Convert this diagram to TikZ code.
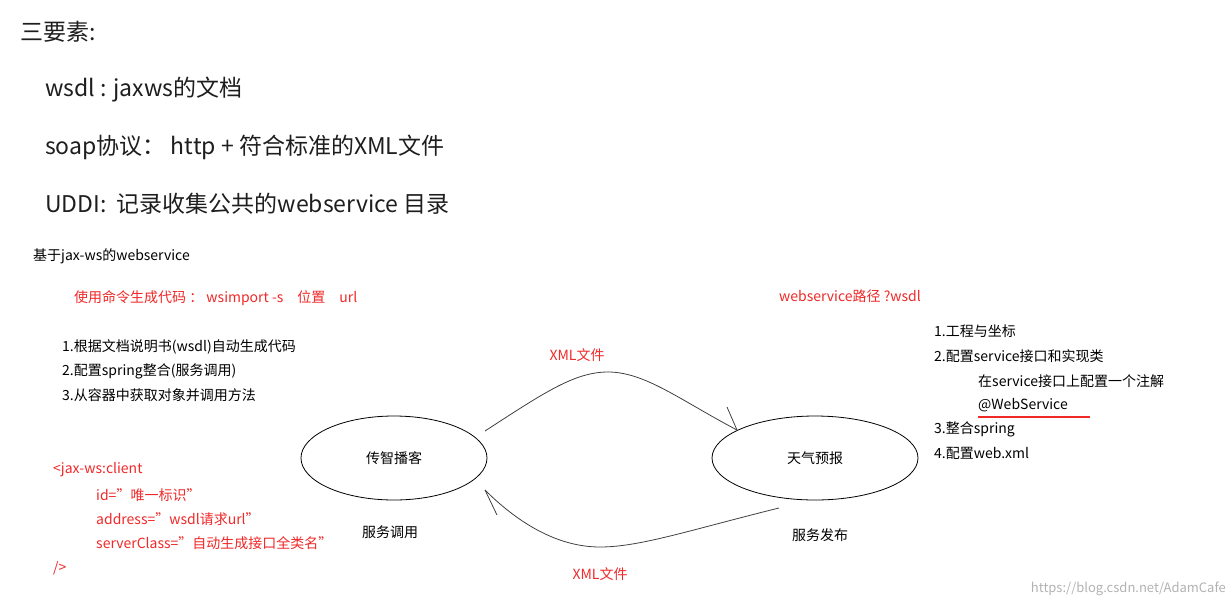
\documentclass[tikz,border=0pt]{standalone}
\usepackage{fontspec}
\setmainfont{Noto Sans CJK SC}
\usetikzlibrary{shapes.geometric}
\definecolor{rd}{RGB}{240,40,40}
\definecolor{tx}{RGB}{30,30,30}
\begin{document}
\begin{tikzpicture}[x=1pt,y=-1pt,
  big/.style={anchor=west,inner sep=0,font=\fontsize{23}{27}\selectfont,text=tx},
  sm/.style={anchor=west,inner sep=0,font=\fontsize{14}{16}\selectfont,text=black},
  rsm/.style={sm,text=rd},
  ell/.style={ellipse,draw,thick,inner sep=0},
  con/.style={draw=black!75,thick}]
\useasboundingbox (0,0) rectangle (1231,606);
\node[big] (t0) at (20,32) {三要素:};
\node[big] (t1) at (45,90) {wsdl : jaxws的文档};
\node[big] (t2) at (45,147) {soap协议： http + 符合标准的XML文件};
\node[big] (t3) at (45,204) {UDDI:\ \ 记录收集公共的webservice 目录};
\node[sm] (h) at (33,256) {基于jax-ws的webservice};
\node[rsm] (cmd) at (74,298) {使用命令生成代码 ：  wsimport -s\quad 位置\quad url};
\node[sm] (l1) at (62,347) {1.根据文档说明书(wsdl)自动生成代码};
\node[sm] (l2) at (62,371) {2.配置spring整合(服务调用)};
\node[sm] (l3) at (62,395) {3.从容器中获取对象并调用方法};
\node[rsm] (wp) at (779,296) {webservice路径 ?wsdl};
\node[sm] (r1) at (934,331) {1.工程与坐标};
\node[sm] (r2) at (934,356) {2.配置service接口和实现类};
\node[sm] (r3) at (978,381) {在service接口上配置一个注解};
\node[sm] (r4) at (978,405) {@WebService};
\draw[rd,line width=1.2pt] (978,417) -- (1090,417);
\node[sm] (r5) at (934,429) {3.整合spring};
\node[sm] (r6) at (934,453) {4.配置web.xml};
\node[rsm] (c1) at (53,470) {<jax-ws:client};
\node[rsm] (c2) at (96,495) {id="唯一标识"};
\node[rsm] (c3) at (96,519) {address="wsdl请求url"};
\node[rsm] (c4) at (96,543) {serverClass="自动生成接口全类名"};
\node[rsm] (c5) at (53,568) {/>};
\node[ell,minimum width=186,minimum height=84] (A) at (394,458) {};
\node[sm,anchor=center] (At) at (394,458) {传智播客};
\node[ell,minimum width=206,minimum height=84] (B) at (815,458) {};
\node[sm,anchor=center] (Bt) at (815,458) {天气预报};
\coordinate (p1) at (485,431);
\coordinate (p2) at (737,430);
\coordinate (b1) at (727,407);
\coordinate (q1) at (779,508);
\coordinate (q2) at (485,490);
\coordinate (b2) at (497,515);
\draw[con] (p1) .. controls (545,392) and (575,372) .. (608,372) .. controls (645,372) and (680,400) .. (p2);
\draw[con] (b1) -- (p2);
\draw[con] (q1) .. controls (690,530) and (640,547) .. (600,547) .. controls (555,547) and (515,520) .. (q2);
\draw[con] (b2) -- (q2);
\node[rsm,anchor=center] (x1) at (577,355) {XML文件};
\node[rsm,anchor=center] (x2) at (600,574) {XML文件};
\node[sm,anchor=center] (s1) at (390,532) {服务调用};
\node[sm,anchor=center] (s2) at (820,535) {服务发布};
\node[sm,anchor=east,text=black!30,font=\fontsize{13}{15}\selectfont] (wm) at (1226,589) {https://blog.csdn.net/AdamCafe};
\end{tikzpicture}
\end{document}
